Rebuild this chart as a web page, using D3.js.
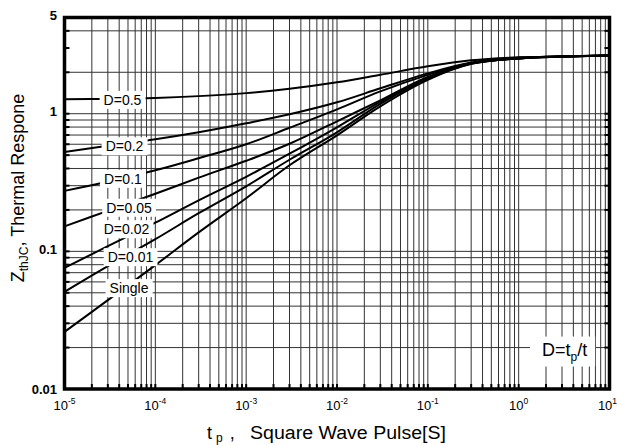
<!DOCTYPE html>
<html lang="en">
<head>
<meta charset="UTF-8">
<title>Transient Thermal Response</title>
<script src="https://d3js.org/d3.v7.min.js"></script>
<style>
  body { margin: 0; background: #fff; }
  svg { display: block; font-family: Arial, "Liberation Sans", sans-serif; }
</style>
</head>
<body>
<div id="chart"></div>
<script>
// pulse width tp [s] where the curves were read
const pulseTimes = [1e-5, 3e-5, 1e-4, 3e-4, 1e-3, 3e-3, 1e-2, 3e-2, 0.1, 0.3, 1, 3, 10];

// Zth values, one list per duty cycle
const zD05    = [1.272, 1.281, 1.302, 1.342, 1.411, 1.516, 1.690, 1.916, 2.208, 2.441, 2.567, 2.609, 2.653];
const zD02    = [0.527, 0.585, 0.652, 0.733, 0.852, 0.990, 1.210, 1.529, 1.964, 2.360, 2.545, 2.605, 2.65];
const zD01    = [0.275, 0.320, 0.388, 0.475, 0.600, 0.790, 1.076, 1.454, 1.916, 2.341, 2.545, 2.605, 2.65];
const zD005   = [0.152, 0.197, 0.262, 0.343, 0.455, 0.605, 0.881, 1.251, 1.853, 2.321, 2.523, 2.605, 2.65];
const zD002   = [0.0759, 0.109, 0.1615, 0.235, 0.348, 0.512, 0.797, 1.220, 1.822, 2.321, 2.523, 2.605, 2.65];
const zD001   = [0.0508, 0.0781, 0.1226, 0.1893, 0.297, 0.463, 0.733, 1.180, 1.792, 2.302, 2.523, 2.605, 2.65];
const zSingle = [0.0260, 0.0442, 0.0794, 0.1374, 0.2432, 0.422, 0.697, 1.132, 1.762, 2.302, 2.523, 2.605, 2.65];

const seriesNames = ["D=0.5", "D=0.2", "D=0.1", "D=0.05", "D=0.02", "D=0.01", "Single"];
const seriesValues = [zD05, zD02, zD01, zD005, zD002, zD001, zSingle];
// where each in-line label sits (tp, Zth)
const labelT = [4.35e-5, 4.58e-5, 4.4e-5, 5.13e-5, 4.81e-5, 5.33e-5, 5.13e-5];
const labelZ = [1.261, 0.580, 0.337, 0.2075, 0.145, 0.0908, 0.0541];

// axes
const xDecadeExp = [-5, -4, -3, -2, -1, 0, 1];
const yTickValues = [0.01, 0.1, 1, 5];
const yTickLabels = ["0.01", "0.1", "1", "5"];
const yGridValues = [0.02, 0.03, 0.04, 0.05, 0.06, 0.07, 0.08, 0.09, 0.1,
                     0.2, 0.3, 0.4, 0.5, 0.6, 0.7, 0.8, 0.9, 1, 2, 4];
const yTickMarks = [0.02, 0.03, 0.04, 0.05, 0.06, 0.07, 0.08, 0.09, 0.1,
                    0.2, 0.3, 0.4, 0.5, 0.6, 0.7, 0.8, 0.9, 1, 2, 3, 4];

const width = 617, height = 445;
const plotL = 64.5, plotR = 609.5, plotT = 17.5, plotB = 389;

const svg = d3.select("#chart").append("svg")
    .attr("width", width)
    .attr("height", height);

const x = d3.scaleLog().domain([1e-5, 10]).range([plotL, plotR]);
const y = d3.scaleLog().domain([0.01, 5]).range([plotB, plotT]);

// minor values along x
const xGridValues = [];
for (let e = -5; e <= 0; e++) {
    for (let m = 1; m <= 9; m++) {
        const v = m * Math.pow(10, e);
        if (v > 1e-5) xGridValues.push(v);
    }
}

// grid
const grid = svg.append("g").attr("stroke", "#333").attr("stroke-width", 1);
grid.selectAll("line.v")
    .data(xGridValues)
    .enter().append("line")
    .attr("x1", d => x(d)).attr("x2", d => x(d))
    .attr("y1", plotT).attr("y2", plotB);
grid.selectAll("line.h")
    .data(yGridValues)
    .enter().append("line")
    .attr("x1", plotL).attr("x2", plotR)
    .attr("y1", d => y(d)).attr("y2", d => y(d));

// inward tick marks
const ticks = svg.append("g").attr("stroke", "#000").attr("stroke-width", 2);
ticks.selectAll("line.l")
    .data(yTickMarks)
    .enter().append("line")
    .attr("x1", plotL).attr("x2", plotL + 5)
    .attr("y1", d => y(d)).attr("y2", d => y(d));
ticks.selectAll("line.r")
    .data(yTickMarks)
    .enter().append("line")
    .attr("x1", plotR).attr("x2", plotR - 5)
    .attr("y1", d => y(d)).attr("y2", d => y(d));
ticks.selectAll("line.b")
    .data(xGridValues)
    .enter().append("line")
    .attr("x1", d => x(d)).attr("x2", d => x(d))
    .attr("y1", plotB).attr("y2", plotB - 5);

// curves
const line = d3.line()
    .x(d => x(d[0]))
    .y(d => y(d[1]))
    .curve(d3.curveCatmullRom.alpha(0.5));

svg.append("g")
    .selectAll("path")
    .data(seriesValues)
    .enter().append("path")
    .attr("d", vals => line(vals.map((v, i) => [pulseTimes[i], v])))
    .attr("fill", "none")
    .attr("stroke", "#000")
    .attr("stroke-width", 2);

// in-line labels with white boxes
const labels = svg.append("g")
    .selectAll("g")
    .data(seriesNames)
    .enter().append("g")
    .attr("transform", (d, i) => `translate(${x(labelT[i])},${y(labelZ[i])})`);
labels.append("rect").attr("fill", "#fff");
labels.append("text")
    .attr("text-anchor", "middle")
    .attr("dy", "0.36em")
    .attr("font-size", 14)
    .text(d => d);
labels.each(function() {
    const g = d3.select(this);
    const b = g.select("text").node().getBBox();
    g.select("rect")
        .attr("x", b.x - 4).attr("y", b.y - 1)
        .attr("width", b.width + 8).attr("height", b.height + 2);
});

// D = tp/t note
const note = svg.append("g")
    .attr("transform", `translate(${x(3.2)},${y(0.0195)})`);
note.append("rect").attr("fill", "#fff");
const noteText = note.append("text")
    .attr("text-anchor", "middle")
    .attr("dy", "0.36em")
    .attr("font-size", 18);
noteText.append("tspan").text("D=t");
noteText.append("tspan").attr("font-size", 12).attr("dy", 5).text("p");
noteText.append("tspan").attr("dy", -5).text("/t");
{
    const b = noteText.node().getBBox();
    note.select("rect")
        .attr("x", b.x - 12).attr("y", b.y - 3)
        .attr("width", b.width + 20).attr("height", b.height + 6);
}

// frame
svg.append("rect")
    .attr("x", plotL).attr("y", plotT)
    .attr("width", plotR - plotL).attr("height", plotB - plotT)
    .attr("fill", "none")
    .attr("stroke", "#000")
    .attr("stroke-width", 3.5);

// x tick labels 10^n
const xLab = svg.append("g")
    .selectAll("text")
    .data(xDecadeExp)
    .enter().append("text")
    .attr("x", d => x(Math.pow(10, d)) - (d === 1 ? 2 : 0))
    .attr("y", 410)
    .attr("text-anchor", "middle")
    .attr("font-size", 13);
xLab.append("tspan").text("10");
xLab.append("tspan").attr("font-size", 8.5).attr("dy", -6).text(d => d);

// y tick labels
svg.append("g")
    .selectAll("text")
    .data(yTickValues)
    .enter().append("text")
    .attr("x", 57)
    .attr("y", d => y(d) - (d === 0.01 ? 0 : 2.5))
    .attr("dy", "0.36em")
    .attr("text-anchor", "end")
    .attr("font-size", 13)
    .attr("font-weight", "bold")
    .text((d, i) => yTickLabels[i]);

// x axis title
const xt = svg.append("text")
    .attr("x", 207).attr("y", 439)
    .attr("font-size", 18);
xt.append("tspan").text("t");
xt.append("tspan").attr("font-size", 12).attr("dx", 4).attr("dy", 3).text("p");
xt.append("tspan").attr("dx", 2).attr("dy", -3).text(" ,");
xt.append("tspan")
    .attr("x", 250)
    .attr("textLength", 196)
    .attr("lengthAdjust", "spacingAndGlyphs")
    .text("Square Wave Pulse[S]");

// y axis title
const yt = svg.append("text")
    .attr("transform", "translate(24,188) rotate(-90)")
    .attr("text-anchor", "middle")
    .attr("font-size", 18);
yt.append("tspan").text("Z");
yt.append("tspan").attr("font-size", 12).attr("dy", 4).text("thJC");
yt.append("tspan").attr("dy", -4).text(", Thermal Respone");
</script>
</body>
</html>
